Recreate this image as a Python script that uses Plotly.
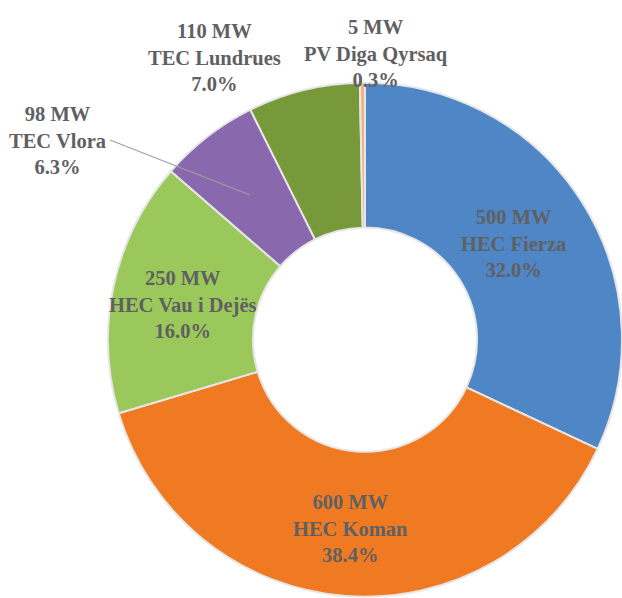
import plotly.graph_objects as go

# Data
names = ["HEC Fierza", "HEC Koman", "HEC Vau i Dejës", "TEC Vlora", "TEC Lundrues", "PV Diga Qyrsaq"]
capacity_mw = [500, 600, 250, 98, 110, 5]
percent_labels = ["32.0%", "38.4%", "16.0%", "6.3%", "7.0%", "0.3%"]
colors = ["#4F86C6", "#F07A22", "#9BC85A", "#8A68AE", "#77993A", "#F5B183"]

W, H = 622, 598
# label anchor centres (pixels from top-left) for each slice label block
label_px = [(513, 243), (350, 528), (183, 304), (57, 140), (214, 57), (376, 54)]

fig = go.Figure()
fig.add_trace(go.Pie(
    labels=names,
    values=capacity_mw,
    sort=False,
    direction="clockwise",
    rotation=0,
    hole=0.436,
    marker=dict(colors=colors, line=dict(color="#E6E6E6", width=2)),
    textinfo="none",
    hoverinfo="label+value+percent",
    showlegend=False,
    domain=dict(x=[0.1736, 1.0], y=[0.002, 0.862]),
))

font = dict(family="Liberation Serif", size=20.5, color="#5F6062")
for n, v, p, (px, py) in zip(names, capacity_mw, percent_labels, label_px):
    fig.add_annotation(
        x=px / W, y=1 - py / H, xref="paper", yref="paper",
        text=f"<b>{v} MW<br>{n}<br>{p}</b>",
        showarrow=False, font=font, align="center",
        xanchor="center", yanchor="middle",
    )

# leader line for TEC Vlora
fig.add_shape(type="line", xref="paper", yref="paper",
              x0=110 / W, y0=1 - 140 / H, x1=250 / W, y1=1 - 195 / H,
              line=dict(color="#A0A0A0", width=1.2))

fig.update_layout(
    width=W, height=H,
    margin=dict(l=0, r=0, t=0, b=0),
    paper_bgcolor="white", plot_bgcolor="white",
)
fig.write_html("out.html",
               config={"displayModeBar": False},
               post_script="document.body.style.margin='0';document.body.style.overflow='hidden';")
